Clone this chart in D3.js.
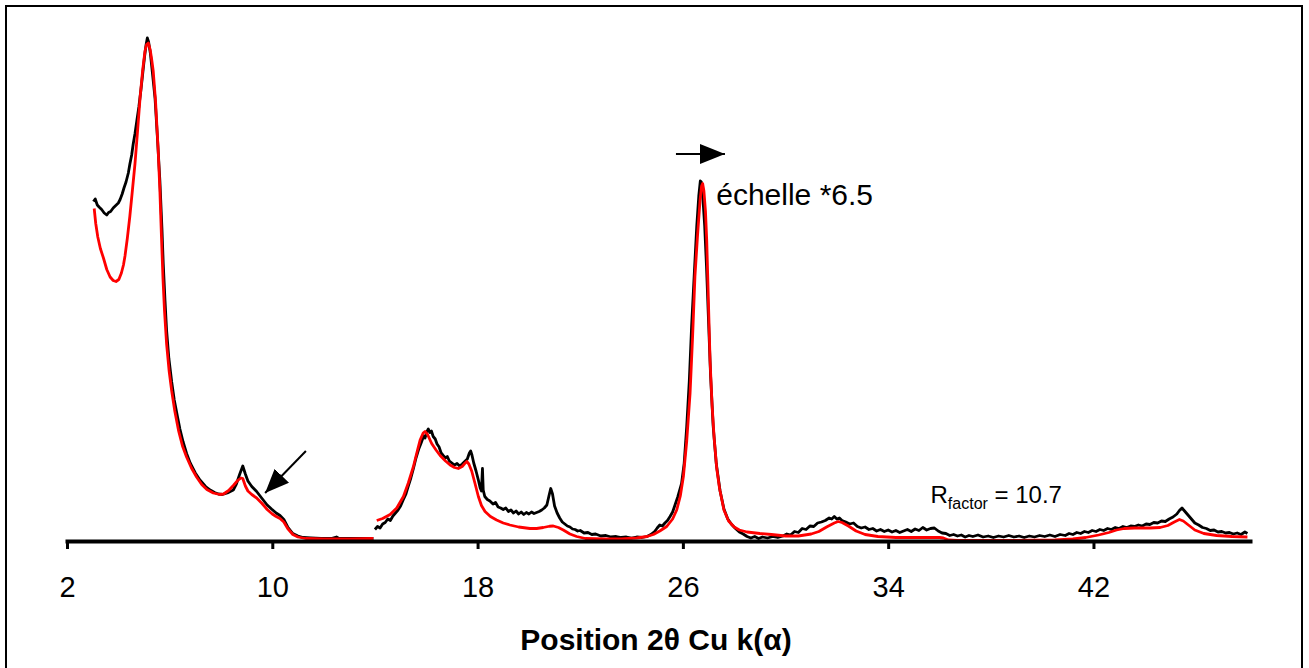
<!DOCTYPE html>
<html>
<head>
<meta charset="utf-8">
<script src="https://cdn.jsdelivr.net/npm/d3@7"></script>
<style>
  body { margin: 0; background: #fff; }
  svg { display: block; font-family: "Liberation Sans", Arial, sans-serif; }
</style>
</head>
<body>
<div id="wrapper"></div>
<script>

// 1. Data (2theta, intensity)

const tickValues = [2, 10, 18, 26, 34, 42];

// low angle part, measured scale
const obsLow = [[3.03,67.9],[3.1,68.4],[3.18,67.2],[3.25,66.8],[3.35,66.3],[3.45,65.6],[3.55,65.2],[3.62,65.7],[3.7,65.9],[3.8,66.6],[3.9,67.1],[4.0,67.6],[4.07,68.3],[4.15,69.4],[4.22,70.6],[4.3,71.8],[4.39,73.6],[4.45,75.4],[4.52,77.2],[4.58,79.4],[4.65,81.5],[4.72,84.0],[4.8,86.8],[4.88,90.2],[4.95,93.5],[5.02,96.8],[5.08,99.2],[5.13,100.6],[5.18,99.8],[5.25,97.5],[5.33,93.6],[5.43,88.6],[5.52,81.0],[5.62,72.0],[5.7,62.5],[5.75,55.5],[5.82,48.0],[5.88,42.2],[5.97,36.5],[6.08,31.8],[6.18,28.2],[6.3,25.0],[6.4,22.4],[6.52,19.9],[6.66,17.5],[6.8,15.6],[7.0,13.6],[7.18,12.2],[7.4,10.9],[7.58,10.2],[7.75,9.7],[7.9,9.4],[8.05,9.3],[8.25,9.6],[8.48,10.2],[8.6,11.4],[8.74,13.5],[8.85,15.0],[8.95,13.4],[9.05,12.0],[9.2,10.9],[9.39,9.9],[9.6,8.5],[9.8,7.2],[9.97,6.4],[10.15,5.6],[10.3,5.1],[10.45,4.3],[10.6,2.8],[10.8,1.5],[11.0,1.0],[11.2,0.7],[11.5,0.6],[11.9,0.5],[12.3,0.5],[12.5,0.8],[12.6,0.5],[13.0,0.5],[13.5,0.5],[13.94,0.5]];

const calcLow = [[3.06,66.5],[3.12,63.5],[3.2,60.8],[3.3,58.5],[3.42,56.6],[3.55,54.3],[3.68,52.8],[3.8,52.1],[3.91,51.9],[4.02,52.3],[4.12,53.6],[4.2,55.2],[4.26,57.0],[4.35,60.5],[4.45,65.0],[4.55,70.2],[4.65,75.5],[4.75,82.0],[4.85,88.8],[4.95,94.2],[5.04,98.0],[5.1,99.3],[5.17,99.6],[5.24,98.3],[5.3,96.3],[5.36,94.0],[5.45,88.0],[5.55,78.5],[5.62,70.0],[5.68,61.0],[5.74,52.5],[5.8,46.0],[5.88,39.5],[5.98,34.0],[6.08,30.0],[6.2,26.0],[6.35,22.0],[6.5,19.0],[6.66,16.8],[6.85,14.6],[7.05,12.8],[7.25,11.3],[7.45,10.3],[7.7,9.6],[7.95,9.3],[8.1,9.4],[8.3,10.1],[8.5,11.2],[8.65,12.1],[8.78,12.6],[8.85,12.5],[8.95,11.0],[9.05,10.0],[9.2,9.3],[9.39,8.6],[9.6,7.5],[9.8,6.3],[10.0,5.4],[10.15,4.9],[10.3,4.5],[10.45,3.8],[10.6,2.5],[10.8,1.3],[11.0,0.8],[11.3,0.5],[12.0,0.4],[13.0,0.4],[13.94,0.5]];

// high angle part, scaled *6.5
const obsHigh = [[14.0,2.3],[14.1,2.9],[14.2,2.6],[14.3,3.4],[14.4,3.7],[14.5,4.4],[14.6,4.1],[14.7,5.0],[14.8,5.6],[14.9,6.2],[15.0,7.0],[15.1,8.2],[15.2,9.3],[15.3,11.0],[15.4,12.6],[15.5,14.5],[15.6,16.6],[15.7,18.3],[15.8,19.6],[15.9,21.0],[15.95,20.6],[16.02,21.8],[16.08,22.4],[16.14,21.7],[16.2,22.0],[16.27,20.9],[16.35,20.4],[16.42,19.4],[16.5,18.8],[16.58,17.6],[16.66,17.1],[16.75,16.6],[16.82,16.9],[16.9,16.0],[17.0,15.6],[17.1,15.2],[17.2,15.5],[17.3,15.0],[17.4,15.4],[17.5,15.9],[17.6,16.4],[17.68,17.6],[17.73,18.0],[17.78,17.2],[17.85,15.6],[17.94,14.0],[18.03,12.2],[18.1,10.6],[18.15,10.0],[18.19,14.5],[18.22,10.2],[18.28,8.9],[18.38,8.3],[18.48,8.0],[18.6,7.4],[18.7,7.7],[18.8,6.8],[18.9,6.6],[19.0,6.3],[19.1,6.6],[19.2,5.9],[19.3,6.2],[19.4,5.6],[19.5,6.0],[19.6,5.4],[19.7,5.8],[19.8,5.3],[19.9,5.7],[20.0,5.4],[20.1,5.8],[20.2,5.5],[20.3,5.7],[20.4,5.9],[20.5,6.2],[20.6,6.6],[20.7,7.2],[20.78,9.0],[20.85,10.5],[20.92,9.4],[21.0,7.0],[21.1,5.6],[21.2,4.6],[21.3,3.8],[21.4,3.4],[21.5,3.0],[21.6,2.8],[21.7,2.4],[21.8,2.3],[21.9,2.0],[22.0,2.1],[22.15,1.6],[22.3,1.7],[22.45,1.3],[22.6,1.4],[22.8,1.0],[23.0,1.1],[23.2,0.8],[23.4,0.9],[23.6,0.7],[23.8,0.8],[24.0,0.6],[24.2,0.8],[24.4,0.7],[24.6,0.9],[24.75,1.3],[24.9,1.9],[25.0,2.6],[25.1,3.2],[25.2,3.0],[25.3,3.6],[25.4,4.1],[25.5,4.9],[25.6,5.8],[25.7,7.3],[25.8,8.8],[25.9,10.6],[25.95,11.5],[26.05,15.5],[26.15,22.9],[26.25,32.0],[26.34,42.9],[26.44,53.0],[26.54,62.9],[26.62,69.0],[26.68,72.0],[26.72,71.8],[26.78,68.5],[26.85,63.0],[26.92,55.0],[27.0,44.0],[27.08,33.0],[27.18,23.0],[27.3,15.5],[27.45,10.0],[27.6,6.4],[27.75,4.4],[27.9,3.3],[28.05,2.5],[28.2,1.8],[28.35,1.4],[28.5,0.9],[28.65,0.6],[28.8,0.9],[28.95,0.5],[29.1,0.8],[29.3,0.6],[29.5,0.9],[29.7,0.7],[29.9,1.0],[30.05,1.4],[30.2,1.2],[30.35,1.9],[30.5,1.7],[30.65,2.5],[30.8,2.3],[30.95,3.0],[31.1,2.9],[31.25,3.6],[31.4,3.8],[31.55,4.1],[31.7,4.6],[31.8,4.4],[31.9,4.9],[32.0,4.4],[32.1,4.6],[32.2,4.1],[32.35,3.8],[32.5,3.4],[32.65,3.6],[32.8,2.9],[32.95,2.6],[33.1,2.8],[33.25,2.3],[33.4,2.5],[33.55,2.0],[33.7,2.3],[33.85,1.9],[34.0,2.2],[34.15,1.8],[34.3,2.1],[34.45,1.7],[34.6,2.0],[34.75,2.3],[34.9,1.9],[35.05,2.4],[35.2,2.1],[35.35,2.7],[35.5,2.2],[35.65,2.5],[35.8,2.6],[35.95,2.0],[36.1,1.6],[36.25,1.5],[36.4,1.1],[36.55,1.3],[36.7,1.0],[36.85,1.2],[37.0,0.8],[37.15,1.1],[37.3,0.9],[37.5,1.2],[37.7,0.8],[37.9,1.0],[38.1,0.7],[38.3,1.0],[38.5,0.8],[38.7,1.1],[38.9,0.8],[39.1,1.0],[39.3,0.7],[39.5,1.0],[39.7,0.8],[39.9,1.1],[40.1,0.9],[40.3,1.2],[40.5,0.9],[40.7,1.3],[40.9,1.1],[41.05,1.5],[41.2,1.3],[41.35,1.7],[41.5,1.5],[41.65,1.9],[41.8,1.7],[41.95,2.1],[42.1,1.9],[42.25,2.3],[42.4,2.1],[42.55,2.5],[42.7,2.3],[42.85,2.7],[43.0,2.5],[43.15,2.9],[43.3,2.7],[43.45,3.0],[43.6,2.9],[43.75,3.2],[43.9,3.0],[44.05,3.4],[44.2,3.3],[44.35,3.7],[44.5,3.6],[44.65,4.0],[44.8,3.9],[44.95,4.4],[45.1,4.8],[45.25,5.4],[45.35,6.1],[45.45,6.6],[45.55,6.0],[45.65,5.4],[45.75,4.8],[45.85,4.2],[45.95,3.6],[46.1,3.2],[46.25,2.7],[46.4,2.5],[46.55,2.1],[46.7,2.2],[46.85,1.8],[47.0,1.9],[47.15,1.6],[47.3,1.7],[47.45,1.4],[47.6,1.6],[47.75,1.3],[47.9,1.8],[48.0,1.5]];

const calcHigh = [[14.07,4.1],[14.3,4.5],[14.59,5.3],[14.85,6.6],[15.11,8.9],[15.3,11.6],[15.5,14.9],[15.65,18.0],[15.76,20.2],[15.88,21.6],[15.95,21.9],[16.05,21.3],[16.21,19.5],[16.38,18.2],[16.54,17.1],[16.75,16.0],[16.93,15.2],[17.1,14.7],[17.25,14.5],[17.4,14.9],[17.5,15.5],[17.58,15.9],[17.66,15.4],[17.77,14.0],[17.9,11.5],[18.03,8.9],[18.15,7.1],[18.29,5.9],[18.5,4.9],[18.74,4.2],[19.0,3.6],[19.26,3.2],[19.6,2.8],[20.04,2.5],[20.3,2.5],[20.56,2.7],[20.8,2.95],[20.95,3.0],[21.15,2.7],[21.34,2.2],[21.6,1.4],[21.86,0.9],[22.2,0.5],[22.9,0.4],[23.6,0.4],[24.2,0.6],[24.6,0.9],[24.85,1.3],[25.1,2.0],[25.37,2.9],[25.6,4.4],[25.76,6.2],[25.9,9.0],[26.02,12.9],[26.15,20.0],[26.28,29.5],[26.38,41.0],[26.47,52.9],[26.57,61.0],[26.67,68.2],[26.73,71.0],[26.77,71.5],[26.82,70.0],[26.88,66.0],[26.93,60.0],[27.0,47.0],[27.06,36.0],[27.14,27.0],[27.22,20.5],[27.32,14.5],[27.43,10.5],[27.6,6.2],[27.78,4.0],[28.0,2.8],[28.2,2.2],[28.5,1.8],[29.0,1.5],[29.45,1.3],[30.0,1.0],[30.5,1.0],[31.0,1.4],[31.3,1.9],[31.6,2.8],[31.9,3.6],[32.05,3.9],[32.2,3.7],[32.45,3.0],[32.75,2.0],[33.1,1.3],[33.6,0.9],[34.3,0.7],[35.0,0.7],[35.5,0.7],[36.0,0.7],[36.15,0.6],[36.35,0.2],[36.7,0.1],[37.5,0.1],[39.0,0.1],[40.5,0.2],[41.2,0.4],[41.7,0.7],[42.2,1.2],[42.6,1.7],[42.9,2.2],[43.2,2.5],[43.6,2.6],[44.2,2.6],[44.6,2.7],[44.9,3.1],[45.15,3.8],[45.35,4.3],[45.5,4.0],[45.7,3.2],[45.95,2.2],[46.3,1.5],[46.8,1.1],[47.4,0.9],[48.0,0.8]];

// 2. Dimensions

const dimensions = {
	width: 1309,
	height: 668,
	xLeft: 67,
	xRight: 1250,
	yBase: 541,
	yTop: 41
};

// 3. Canvas

const wrapper = d3.select("#wrapper")
	.append("svg")
	.attr("width", dimensions.width)
	.attr("height", dimensions.height);

wrapper.append("rect")
	.attr("x", 6)
	.attr("y", 6)
	.attr("width", 1296)
	.attr("height", 700)
	.attr("fill", "none")
	.attr("stroke", "#000")
	.attr("stroke-width", 2);

// 4. Scales

const xScale = d3.scaleLinear()
	.domain([2, 48.1])
	.range([dimensions.xLeft, dimensions.xRight]);

const yScale = d3.scaleLinear()
	.domain([0, 100])
	.range([dimensions.yBase, dimensions.yTop]);

// 5. Draw data

const lineGenerator = d3.line()
	.x(d => xScale(d[0]))
	.y(d => yScale(d[1]));

const curves = wrapper.append("g");

[obsLow, obsHigh].forEach(seg => {
	curves.append("path")
		.datum(seg)
		.attr("d", lineGenerator)
		.attr("fill", "none")
		.attr("stroke", "#000")
		.attr("stroke-width", 2.8)
		.attr("stroke-linejoin", "round");
});

[calcLow, calcHigh].forEach(seg => {
	curves.append("path")
		.datum(seg)
		.attr("d", lineGenerator)
		.attr("fill", "none")
		.attr("stroke", "#ff0000")
		.attr("stroke-width", 2.8)
		.attr("stroke-linejoin", "round");
});

// 6. Peripherals

const xAxisGenerator = d3.axisBottom(xScale)
	.tickValues(tickValues)
	.tickSizeInner(8)
	.tickSizeOuter(0)
	.tickPadding(27)
	.tickFormat(d3.format("d"));

const xAxis = wrapper.append("g")
	.attr("transform", `translate(0,${dimensions.yBase})`)
	.call(xAxisGenerator);

xAxis.select(".domain")
	.attr("stroke", "#000")
	.attr("stroke-width", 4)
	.attr("stroke-linecap", "square");

xAxis.selectAll(".tick line")
	.attr("stroke", "#000")
	.attr("stroke-width", 3);

xAxis.selectAll(".tick text")
	.attr("fill", "#000")
	.style("font-family", "'Liberation Sans', Arial, sans-serif")
	.style("font-size", "29px");

wrapper.append("text")
	.attr("x", 656)
	.attr("y", 650)
	.attr("text-anchor", "middle")
	.style("font-size", "30px")
	.style("font-weight", "bold")
	.text("Position 2θ Cu k(α)");

// annotations (positioned in data units)

const defs = wrapper.append("defs");

function addHead(id, w, h) {
	defs.append("marker")
		.attr("id", id)
		.attr("viewBox", "0 0 10 10")
		.attr("refX", 10)
		.attr("refY", 5)
		.attr("markerWidth", w)
		.attr("markerHeight", h)
		.attr("markerUnits", "userSpaceOnUse")
		.attr("orient", "auto")
		.attr("preserveAspectRatio", "none")
		.append("path")
		.attr("d", "M0,0L10,5L0,10Z")
		.attr("fill", "#000");
}
addHead("head", 25, 20);
addHead("head2", 24, 20);

const scaleArrow = {x1: 25.73, x2: 27.64, y: 77.4};
const shoulderArrow = {x1: 11.31, y1: 18.0, x2: 9.72, y2: 9.6};

wrapper.append("line")
	.attr("x1", xScale(scaleArrow.x1))
	.attr("x2", xScale(scaleArrow.x2))
	.attr("y1", yScale(scaleArrow.y))
	.attr("y2", yScale(scaleArrow.y))
	.attr("stroke", "#000")
	.attr("stroke-width", 2)
	.attr("marker-end", "url(#head)");

wrapper.append("line")
	.attr("x1", xScale(shoulderArrow.x1))
	.attr("y1", yScale(shoulderArrow.y1))
	.attr("x2", xScale(shoulderArrow.x2))
	.attr("y2", yScale(shoulderArrow.y2))
	.attr("stroke", "#000")
	.attr("stroke-width", 2)
	.attr("marker-end", "url(#head2)");

wrapper.append("text")
	.attr("x", xScale(27.3))
	.attr("y", yScale(67.2))
	.style("font-size", "30px")
	.text("échelle *6.5");

const rText = wrapper.append("text")
	.attr("x", xScale(35.65))
	.attr("y", yScale(7.6))
	.style("font-size", "24px");
rText.append("tspan").text("R");
rText.append("tspan").attr("dy", 6).style("font-size", "16px").text("factor");
rText.append("tspan").attr("dy", -6).text(" = 10.7");

</script>
</body>
</html>
